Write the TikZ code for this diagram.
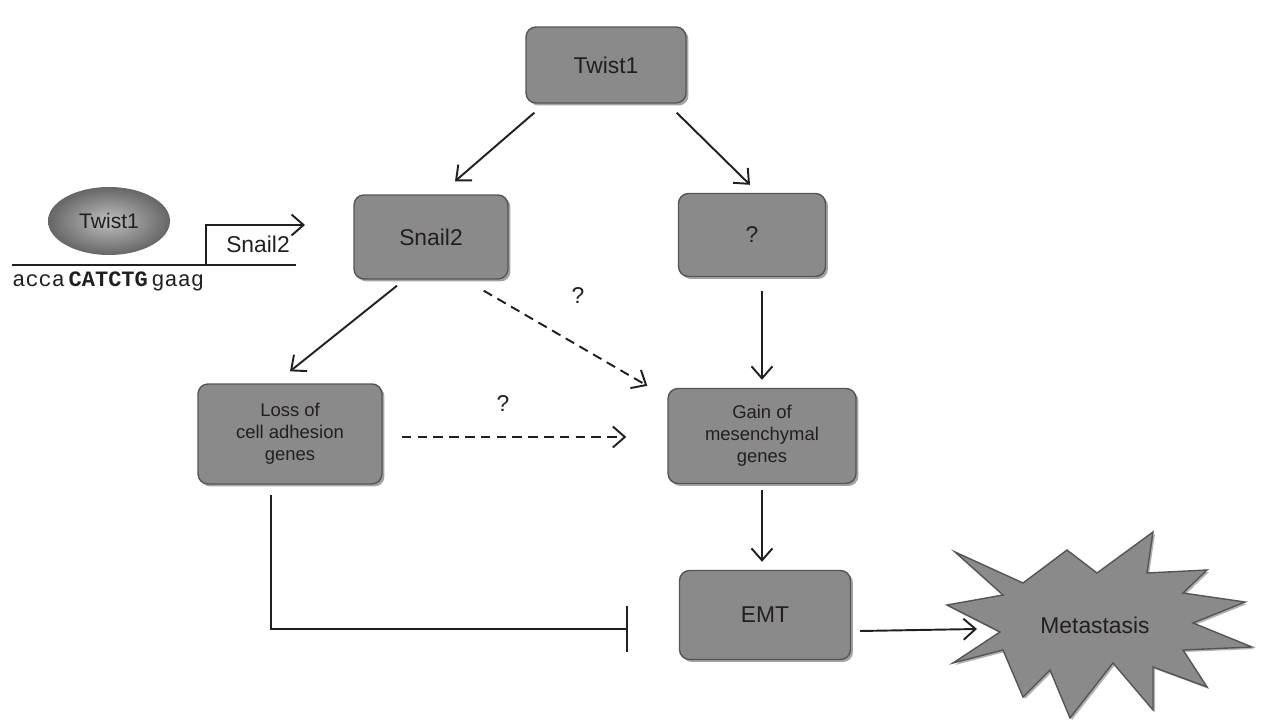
\documentclass[tikz,border=0pt]{standalone}
\usepackage{fontspec}
\setmainfont{Liberation Sans}
\setmonofont{Liberation Mono}
\usepackage{tikz}
\usetikzlibrary{arrows.meta, shapes.geometric, positioning, calc, shadows}

\definecolor{boxgray}{RGB}{138,138,138}
\definecolor{edgegray}{RGB}{85,85,85}
\definecolor{ink}{RGB}{35,31,32}

\tikzset{
  box/.style={draw=edgegray, line width=0.8pt, fill=boxgray, rounded corners=0.2cm,
    inner sep=0pt, align=center, text=ink, font=\fontsize{13}{15}\selectfont,
    drop shadow={shadow xshift=0.05cm, shadow yshift=-0.05cm, fill=black!60, opacity=0.6}},
  smallbox/.style={box, font=\fontsize{10.5}{12.6}\selectfont},
  arr/.style={line width=1.1pt, ink, -{Straight Barb[length=2.4mm,width=4.2mm]}},
  dasharr/.style={arr, dash pattern=on 5.5pt off 3.5pt},
  inhib/.style={line width=1.1pt, ink, -{Bar[width=0.94cm]}},
  qlabel/.style={text=ink, font=\fontsize{13}{15}\selectfont}
}

\begin{document}
\begin{tikzpicture}[x=0.02cm, y=-0.02cm]
\useasboundingbox (0,0) rectangle (1278,722);

% Binding of Twist1 to the Snail2 promoter
\coordinate (dnaL) at (12,265);
\coordinate (dnaR) at (296,265);
\coordinate (tss) at (206,265);
\coordinate (tssEnd) at (305,225);
\draw[line width=1.1pt, ink] (dnaL) -- (dnaR);
\draw[arr] (tss) |- (tssEnd);
\node[ellipse, minimum width=2.44cm, minimum height=1.36cm, inner sep=0pt,
  inner color=black!25, outer color=black!60, text=ink,
  font=\fontsize{12}{14}\selectfont] (twistE) at (109,221) {Twist1};
\node[text=ink, font=\fontsize{13}{15}\selectfont] (snailP) at (258,244) {Snail2};
\node[anchor=west, inner sep=0pt, text=ink, font=\ttfamily\fontsize{12.5}{14}\selectfont]
  (seq) at (12,281) {acca\,\textbf{CATCTG}\,gaag};

% Boxes
\node[box, minimum width=3.2cm, minimum height=1.52cm] (twist) at (606,65) {Twist1};
\node[box, minimum width=3.08cm, minimum height=1.68cm] (snail) at (431,237) {Snail2};
\node[box, minimum width=2.94cm, minimum height=1.66cm] (unk) at (752,235) {?};
\node[smallbox, minimum width=3.68cm, minimum height=2.0cm] (loss) at (290,434)
  {Loss of\\cell adhesion\\genes};
\node[smallbox, minimum width=3.76cm, minimum height=1.9cm] (gain) at (762,436)
  {Gain of\\mesenchymal\\genes};
\node[box, minimum width=3.42cm, minimum height=1.78cm] (emt) at (765,615) {EMT};

% Metastasis burst
\coordinate (metaC) at (1095,625);
\begin{scope}[shift={(metaC)}]
\draw[draw=edgegray, line width=0.8pt, fill=boxgray, line join=miter,
  drop shadow={shadow xshift=0.04cm, shadow yshift=-0.04cm, fill=black!60, opacity=0.5}]
  (-140,-73) -- (-72,-42) -- (-28,-75) -- (2,-52) -- (58,-93) -- (52,-52)
  -- (112,-55) -- (88,-32) -- (150,-23) -- (98,-2) -- (157,22) -- (88,25)
  -- (112,62) -- (58,42) -- (58,85) -- (18,38) -- (-25,93) -- (-45,45)
  -- (-72,72) -- (-92,25) -- (-142,38) -- (-95,7) -- (-148,-20) -- (-92,-30) -- cycle;
\end{scope}
\node[text=ink, font=\fontsize{13}{15}\selectfont] (meta) at (metaC) {Metastasis};

% Connectors
\draw[arr] ($(twist.south west)+(9,9)$) -- ($(snail.north)+(24,-13)$);
\draw[arr] ($(twist.south east)+(-10,9)$) -- ($(unk.north)+(-2,-8)$);
\draw[arr] ($(snail.south)+(-34,6)$) -- ($(loss.north)+(0,-12)$);
\draw[dasharr] ($(snail.south east)+(-25,11)$) -- ($(gain.north west)+(-20,-2)$);
\draw[arr] ($(unk.south)+(10,14)$) -- ($(gain.north)+(0,-8)$);
\draw[dasharr] ($(loss.east)+(19,3)$) -- ($(gain.west)+(-41,1)$);
\draw[arr] ($(gain.south)+(0,6)$) -- ($(emt.north)+(-3,-8)$);
\draw[inhib] ($(loss.south)+(-19,10)$) |- ($(emt.west)+(-51,14)$);
\draw[arr] ($(emt.east)+(9,16)$) -- ($(meta)+(-118,4)$);

% Open questions
\node[qlabel] (q1) at (578,296) {?};
\node[qlabel] (q2) at (503,404) {?};
\end{tikzpicture}
\end{document}
